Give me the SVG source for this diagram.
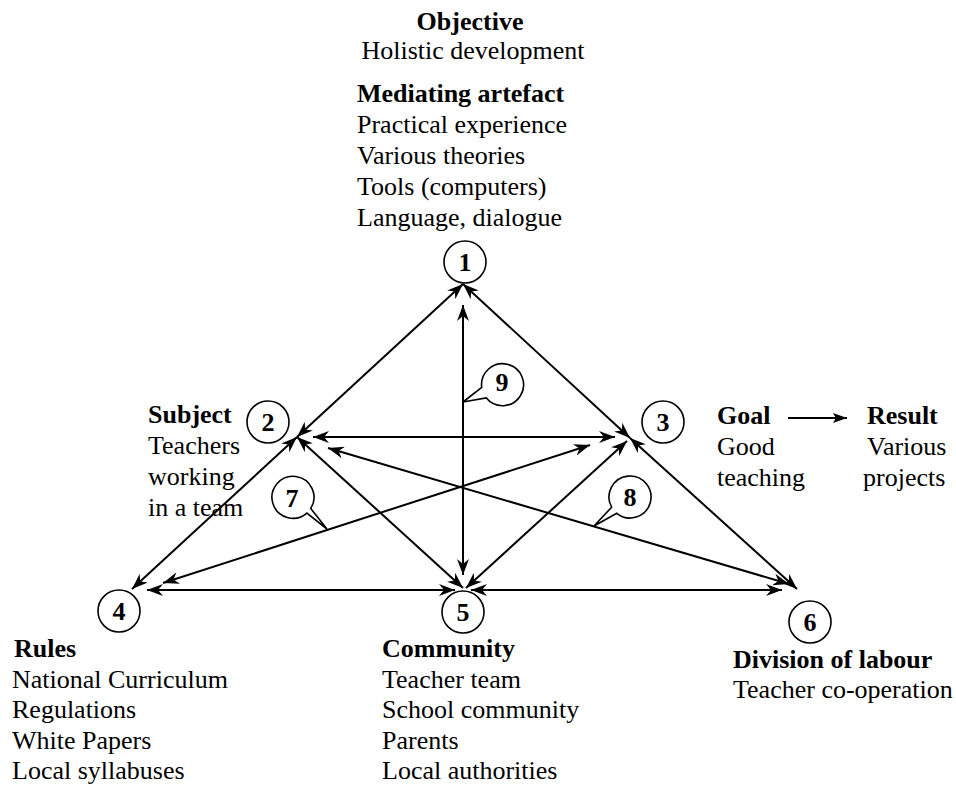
<svg xmlns="http://www.w3.org/2000/svg" width="956" height="785" viewBox="0 0 956 785">
<style>
text{font-family:"Liberation Serif","Times New Roman",serif;font-size:26px;fill:#000}
.b{font-weight:bold}
.n{font-weight:bold;text-anchor:middle}
.c{fill:#fff;stroke:#000;stroke-width:1.6}
.l{stroke:#000;stroke-width:2;fill:none;marker-start:url(#ah);marker-end:url(#ah)}
</style>
<defs>
<marker id="ah" viewBox="0 0 16 12" markerWidth="16" markerHeight="12" refX="16" refY="6" orient="auto-start-reverse" markerUnits="userSpaceOnUse">
<path d="M0,0 L16,6 L0,12 L5,6 z" fill="#000"/>
</marker>
<marker id="sa" viewBox="0 0 14 10" markerWidth="14" markerHeight="10" refX="14" refY="5" orient="auto" markerUnits="userSpaceOnUse">
<path d="M0,0 L14,5 L0,10 L3,5 z" fill="#000"/>
</marker>
</defs>
<rect width="956" height="785" fill="#fff"/>
<g id="connectors">
<line class="l" x1="463" y1="284" x2="297" y2="437"/>
<line class="l" x1="463" y1="284" x2="630" y2="438"/>
<line class="l" x1="463" y1="305" x2="463" y2="575"/>
<line class="l" x1="313" y1="437" x2="615" y2="437"/>
<line class="l" x1="297" y1="437" x2="132" y2="589"/>
<line class="l" x1="297" y1="437" x2="463" y2="588"/>
<line class="l" x1="328" y1="448" x2="789" y2="584"/>
<line class="l" x1="590" y1="445" x2="163" y2="583"/>
<line class="l" x1="627" y1="441" x2="466" y2="588"/>
<line class="l" x1="630" y1="438" x2="797" y2="589"/>
<line class="l" x1="147" y1="590" x2="455" y2="590"/>
<line class="l" x1="471" y1="590" x2="782" y2="590"/>
<line x1="788" y1="418" x2="847" y2="418" stroke="#000" stroke-width="2" marker-end="url(#sa)"/>
</g>
<g id="node1"><circle class="c" cx="465" cy="262" r="21"/><text class="n" x="465" y="271">1</text></g>
<g id="node2"><circle class="c" cx="268" cy="422" r="21"/><text class="n" x="268" y="431">2</text></g>
<g id="node3"><circle class="c" cx="663" cy="422" r="21"/><text class="n" x="663" y="431">3</text></g>
<g id="node4"><circle class="c" cx="119" cy="611" r="21"/><text class="n" x="119" y="620">4</text></g>
<g id="node5"><circle class="c" cx="463" cy="612" r="21"/><text class="n" x="463" y="621">5</text></g>
<g id="node6"><circle class="c" cx="810" cy="622" r="21"/><text class="n" x="810" y="631">6</text></g>
<g id="callout7"><path class="c" d="M306.85,513.05 A21,21 0 1,1 310.71,508.53 L327,529 Z"/><text class="n" x="292" y="507">7</text></g>
<g id="callout8"><path class="c" d="M611.63,507.18 A21,21 0 1,1 616.78,513.32 L594,526 Z"/><text class="n" x="630" y="506">8</text></g>
<g id="callout9"><path class="c" d="M481.72,387.43 A21,21 0 1,1 486.15,397.85 L463,402 Z"/><text class="n" x="502" y="391">9</text></g>
<g id="objective">
<text class="b" x="470" y="30" text-anchor="middle">Objective</text>
<text x="473" y="59" text-anchor="middle">Holistic development</text>
</g>
<g id="artefact">
<text class="b" x="357" y="102">Mediating artefact</text>
<text x="357" y="133">Practical experience</text>
<text x="357" y="164">Various theories</text>
<text x="357" y="195">Tools (computers)</text>
<text x="357" y="226">Language, dialogue</text>
</g>
<g id="subject">
<text class="b" x="148" y="423">Subject</text>
<text x="148" y="454">Teachers</text>
<text x="148" y="485">working</text>
<text x="148" y="516">in a team</text>
</g>
<g id="goal">
<text class="b" x="717" y="424">Goal</text>
<text x="717" y="455">Good</text>
<text x="717" y="486">teaching</text>
</g>
<g id="result">
<text class="b" x="867" y="424">Result</text>
<text x="867" y="455">Various</text>
<text x="863" y="486">projects</text>
</g>
<g id="rules">
<text class="b" x="14" y="657">Rules</text>
<text x="12" y="688">National Curriculum</text>
<text x="12" y="718">Regulations</text>
<text x="12" y="749">White Papers</text>
<text x="12" y="779">Local syllabuses</text>
</g>
<g id="community">
<text class="b" x="382" y="657">Community</text>
<text x="382" y="688">Teacher team</text>
<text x="382" y="718">School community</text>
<text x="382" y="749">Parents</text>
<text x="382" y="779">Local authorities</text>
</g>
<g id="division">
<text class="b" x="733" y="668">Division of labour</text>
<text x="733" y="698">Teacher co-operation</text>
</g>
</svg>
